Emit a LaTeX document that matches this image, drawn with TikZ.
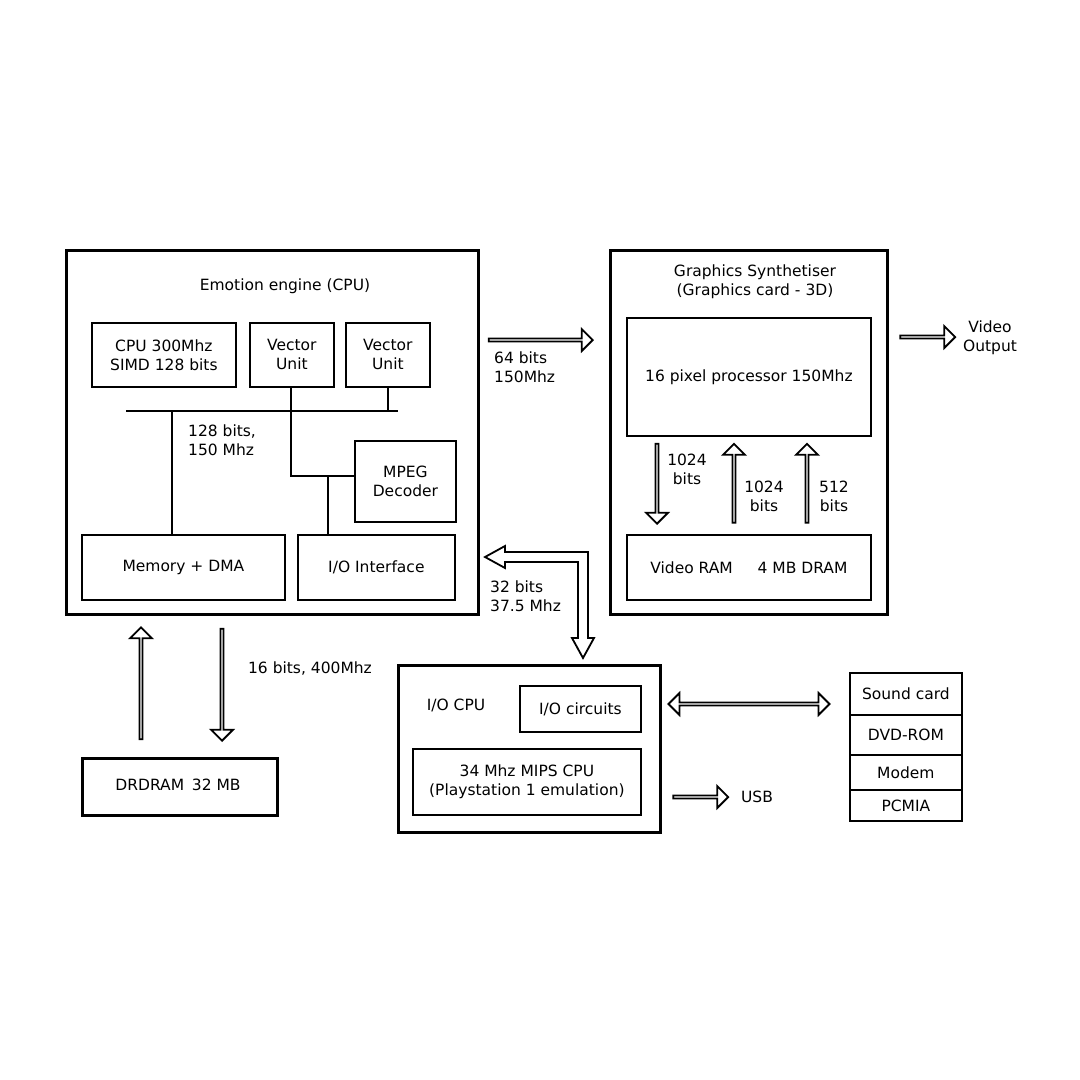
\documentclass[tikz,border=0pt]{standalone}
\usepackage{fontspec}
\setmainfont{DejaVu Sans}
\usetikzlibrary{shapes.arrows}
\begin{document}
\begin{tikzpicture}[x=1pt,y=-1pt,
 box/.style={draw,line width=1.8pt,anchor=north west,inner sep=0pt,align=center,font=\fontsize{15.5}{19}\selectfont},
 big/.style={draw,line width=3.2pt,anchor=north west,inner sep=0pt},
 lbl/.style={align=left,font=\fontsize{15.5}{19}\selectfont,inner sep=0pt},
 ha/.style={single arrow,draw,line width=1.8pt,fill=white,minimum width=22pt,single arrow head extend=6pt,single arrow head indent=0pt,inner sep=0pt,anchor=center},
 da/.style={double arrow,draw,line width=1.8pt,fill=white,minimum width=22pt,double arrow head extend=6pt,inner sep=0pt,anchor=center}]
\useasboundingbox (0,0) rectangle (1080,1080);
\fill[white] (0,0) rectangle (1080,1080);
% Emotion engine
\node[big,minimum width=412pt,minimum height=364pt] (ee) at (65,249) {};
\node[lbl] (eet) at (285,286) {Emotion engine (CPU)};
\node[box,minimum width=144pt,minimum height=64pt] (cpu) at (91,322) {CPU 300Mhz\\SIMD 128 bits};
\node[box,minimum width=84pt,minimum height=64pt] (vu1) at (249,322) {Vector\\Unit};
\node[box,minimum width=84pt,minimum height=64pt] (vu2) at (345,322) {Vector\\Unit};
\node[box,minimum width=101pt,minimum height=81pt] (mpeg) at (354,440) {MPEG\\Decoder};
\node[box,minimum width=203pt,minimum height=65pt] (mem) at (81,534) {Memory + DMA};
\node[box,minimum width=157pt,minimum height=65pt] (io) at (297,534) {I/O Interface};
\coordinate (busl) at (126,411);
\coordinate (busr) at (398,411);
\draw[line width=1.8pt] (busl) -- (busr);
\draw[line width=1.8pt] (172,411) -- (172,534);
\draw[line width=1.8pt] (vu2.south) -- (vu2.south |- busr);
\draw[line width=1.8pt] (291,386) -- (291,476) -- (354,476);
\draw[line width=1.8pt] (328,476) -- (328,534);
\node[lbl,anchor=north west] (l128) at (188,425) {128 bits,\\150 Mhz};
% Graphics
\node[big,minimum width=277pt,minimum height=364pt] (gs) at (609,249) {};
\node[lbl,align=center] (gst) at (755,282) {Graphics Synthetiser\\(Graphics card - 3D)};
\node[box,minimum width=244pt,minimum height=118pt] (pp) at (626,317) {16 pixel processor 150Mhz};
\node[box,minimum width=244pt,minimum height=65pt] (vram) at (626,534) {Video RAM\hspace{1.6em}4 MB DRAM};
\node[ha,minimum height=80pt,rotate=-90] (a1) at (657,483) {};
\node[ha,minimum height=79pt,rotate=90] (a2) at (734,484) {};
\node[ha,minimum height=79pt,rotate=90] (a3) at (807,484) {};
\node[lbl,align=center] at (687,469) {1024\\bits};
\node[lbl,align=center] at (764,496) {1024\\bits};
\node[lbl,align=center] at (834,496) {512\\bits};
\node[ha,minimum height=104pt] (a64) at (540,340) {};
\node[lbl,anchor=north west] at (494,352) {64 bits\\150Mhz};
\node[ha,minimum height=55pt] (avo) at (927,337) {};
\node[lbl,align=center] at (990,338) {Video\\Output};
% L double arrow
\draw[line width=1.8pt,fill=white,line join=miter] (485,557) -- (505,546) -- (505,552) -- (588,552) -- (588,638) -- (594,638) -- (583,658) -- (572,638) -- (578,638) -- (578,562) -- (505,562) -- (505,568) -- cycle;
\node[lbl,anchor=north west] at (490,581) {32 bits\\37.5 Mhz};
% DRDRAM
\node[ha,minimum height=112pt,rotate=90] (d1) at (141,684) {};
\node[ha,minimum height=112pt,rotate=-90] (d2) at (222,684) {};
\node[lbl] at (310,669) {16 bits, 400Mhz};
\node[big,minimum width=195pt,minimum height=57pt] (dr) at (81,757) {};
\node[lbl] at (178,785) {DRDRAM\hspace{0.5em}32 MB};
% IO CPU
\node[big,minimum width=262pt,minimum height=167pt] (iocpu) at (397,664) {};
\node[lbl] at (456,705) {I/O CPU};
\node[box,minimum width=121pt,minimum height=46pt] (ioc) at (519,685) {I/O circuits};
\node[box,minimum width=228pt,minimum height=66pt] (mips) at (412,748) {34 Mhz MIPS CPU\\(Playstation 1 emulation)};
\node[da,minimum height=161pt] (dd) at (749,704) {};
\node[ha,minimum height=55pt] (ausb) at (700,797) {};
\node[lbl] at (757,797) {USB};
% stack
\node[box,minimum width=112pt,minimum height=42pt] (snd) at (849,672) {Sound card};
\node[box,minimum width=112pt,minimum height=40pt] (dvd) at (849,714) {DVD-ROM};
\node[box,minimum width=112pt,minimum height=35pt] (mod) at (849,754) {Modem};
\node[box,minimum width=112pt,minimum height=31pt] (pc) at (849,789) {PCMIA};
\end{tikzpicture}
\end{document}
